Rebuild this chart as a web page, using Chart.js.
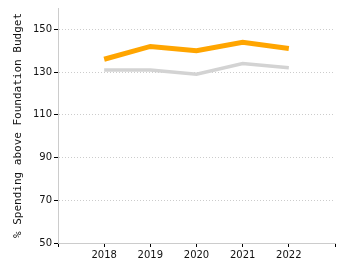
<!DOCTYPE html>
<html>
<head>
<meta charset="utf-8">
<script src="https://cdn.jsdelivr.net/npm/chart.js@4/dist/chart.umd.min.js"></script>
<style>
  html, body { margin: 0; padding: 0; background: #fff; }
  #wrap { width: 350px; height: 275px; }
</style>
</head>
<body>
<div id="wrap"><canvas id="spendChart"></canvas></div>
<script>
const years = [2018, 2019, 2020, 2021, 2022];
const spendingA = [136, 142, 140, 144, 141];
const spendingB = [131, 131, 129, 134, 132];
const yTicks = [50, 70, 90, 110, 130, 150];

const toPoints = (vals) => vals.map((v, i) => ({ x: years[i], y: v }));

const ctx = document.getElementById("spendChart").getContext("2d");

const chart = new Chart(ctx, {
  type: "line",
  data: {
    datasets: [
      {
        data: toPoints(spendingB),
        borderColor: "#d3d3d3",
        borderWidth: 3.5,
        pointRadius: 0,
        tension: 0,
      },
      {
        data: toPoints(spendingA),
        borderColor: "#ffa500",
        borderWidth: 5,
        pointRadius: 0,
        tension: 0,
      },
    ],
  },
  options: {
    responsive: true,
    maintainAspectRatio: false,
    animation: false,
    layout: { padding: { top: 8, right: 15, left: 0, bottom: 0 } },
    scales: {
      x: {
        type: "linear",
        min: 2017,
        max: 2023,
        afterBuildTicks: (axis) => {
          axis.ticks = [2017, 2018, 2019, 2020, 2021, 2022, 2023].map((v) => ({ value: v }));
        },
        afterFit: (axis) => { axis.height = 32; },
        ticks: {
          color: "#111",
          font: { family: "DejaVu Sans", size: 10 },
          padding: 2,
          maxRotation: 0,
          callback: (v) => (years.includes(v) ? String(v) : ""),
        },
        grid: {
          drawOnChartArea: false,
          tickColor: "#000",
          tickLength: 4,
        },
        border: { color: "#cccccc", width: 1 },
      },
      y: {
        min: 50,
        max: 160,
        afterBuildTicks: (axis) => {
          axis.ticks = yTicks.map((v) => ({ value: v }));
        },
        afterFit: (axis) => { axis.width = 58; },
        ticks: {
          color: "#111",
          font: { family: "DejaVu Sans", size: 10 },
          padding: 2,
        },
        grid: {
          color: "#cccccc",
          tickColor: "#000",
          tickLength: 4,
        },
        border: { color: "#cccccc", width: 1, dash: [1, 2] },
        title: {
          display: true,
          text: "% Spending above Foundation Budget",
          color: "#111",
          font: { family: "DejaVu Sans Mono", size: 11 },
          padding: { top: 12, bottom: 6 },
        },
      },
    },
    plugins: {
      legend: { display: false },
      tooltip: { enabled: false },
    },
  },
});
</script>
</body>
</html>
